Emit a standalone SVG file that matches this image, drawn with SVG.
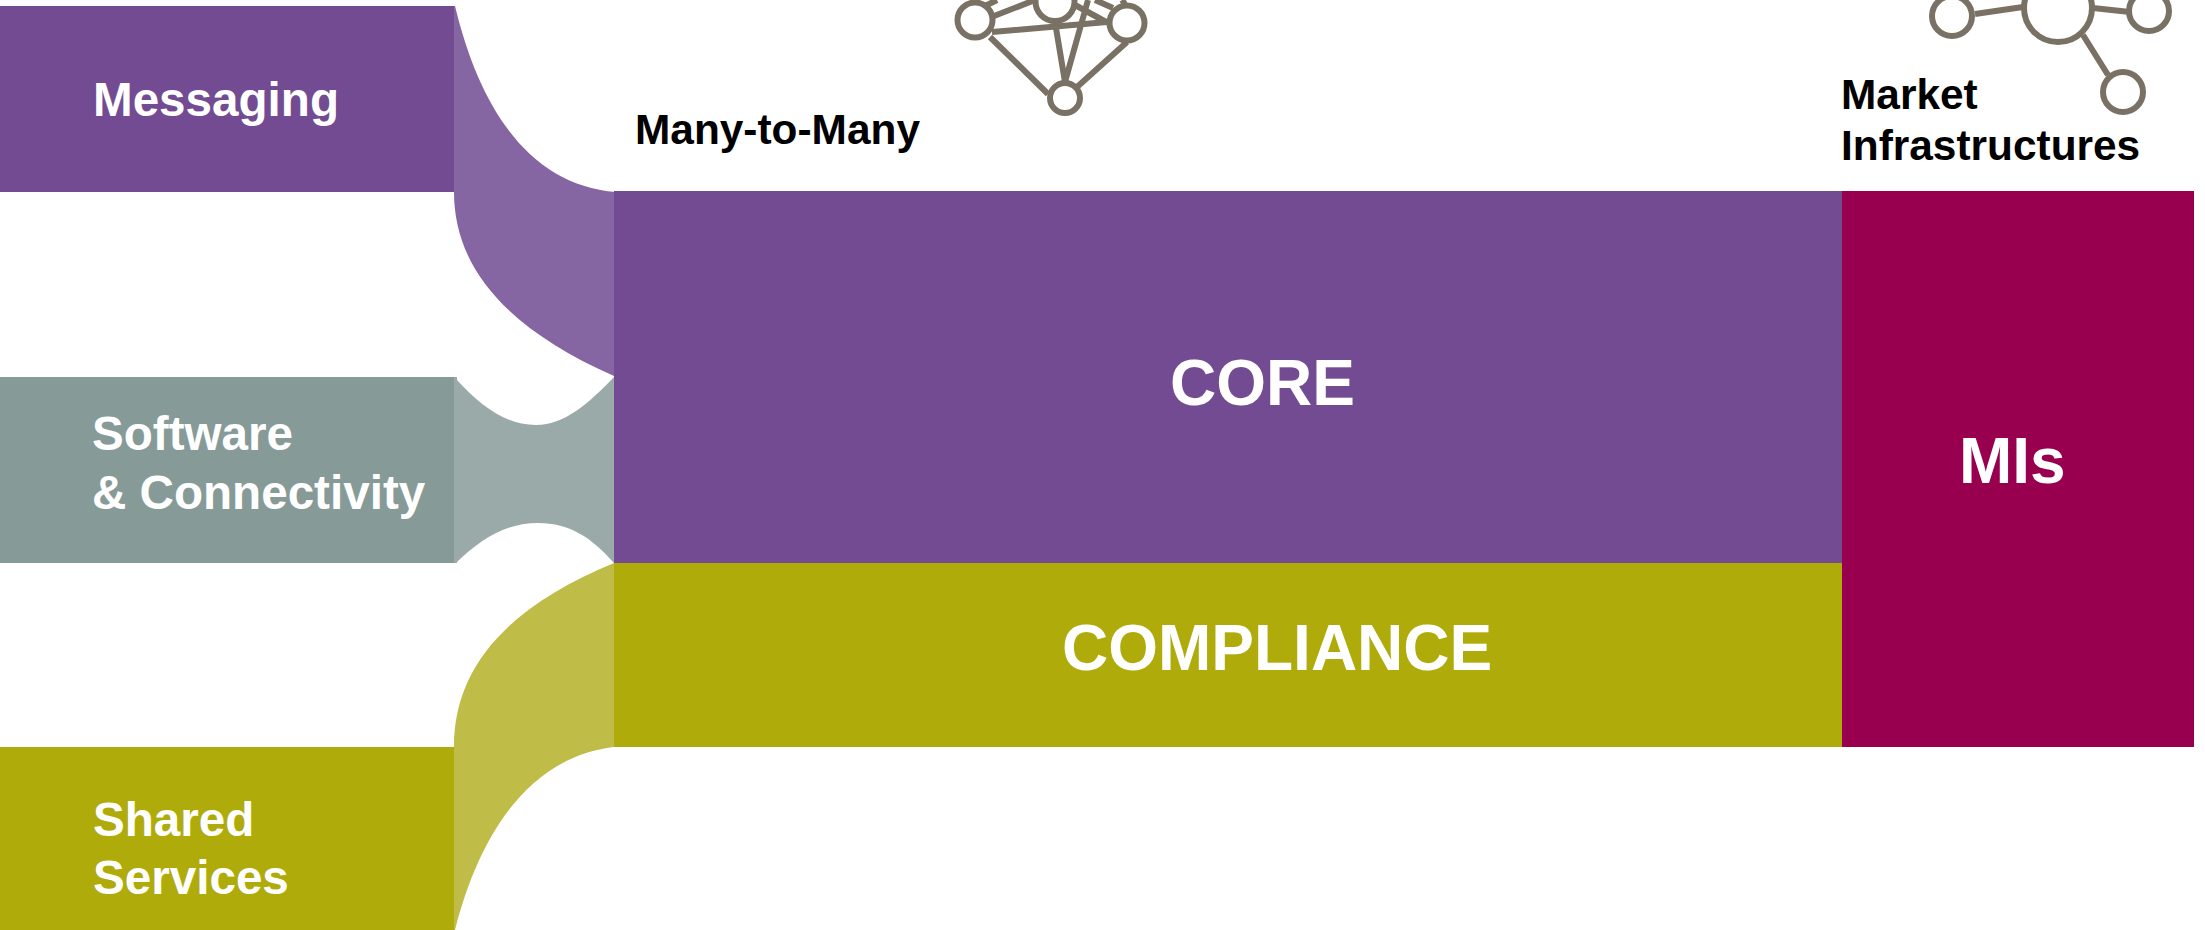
<svg xmlns="http://www.w3.org/2000/svg" width="2205" height="930" viewBox="0 0 2205 930">
<style>
text{font-family:"Liberation Sans",Arial,sans-serif;font-weight:700}
.w{fill:#fff}
.s{font-size:47.6px}
.l{font-size:64px}
.b{font-size:42.4px;fill:#000}
.ln{fill:none;stroke:#7a7165;stroke-width:6}
.c{fill:#fff;stroke:#7a7165;stroke-width:6}
</style>
<rect width="2205" height="930" fill="#fff"/>
<g id="messaging"><rect x="0" y="6" width="454" height="186" fill="#724b92"/><text class="w s" x="93" y="116">Messaging</text></g>
<g id="software"><rect x="0" y="377" width="454" height="186" fill="#869a98"/><text class="w s"><tspan x="92" y="450">Software</tspan><tspan x="92" y="509">&amp; Connectivity</tspan></text></g>
<g id="shared"><rect x="0" y="747" width="454" height="183" fill="#afab0b"/><text class="w s"><tspan x="93" y="836">Shared</tspan><tspan x="93" y="894">Services</tspan></text></g>
<g id="connectors">
<path fill="#8566a3" d="M454 6H455C480 110 530 185 616 192V377L614 376C510 330 454 270 454 192Z"/>
<path fill="#9aaaa8" d="M454 377H457V380C480 405 505 425 536 425C565 425 590 402 614 377H616V563H614C592 538 570 523 538 523C505 523 480 540 457 562V563H454Z"/>
<path fill="#bfbc47" d="M454 747C454 665 510 606 614 563H616V747H614C530 757 480 832 455 930H454Z"/>
</g>
<g id="core"><rect x="614" y="191" width="1228" height="372" fill="#724b92"/><text class="w l" x="1170" y="405">CORE</text></g>
<g id="compliance"><rect x="614" y="563" width="1228" height="184" fill="#afab0b"/><text class="w l" x="1062" y="670">COMPLIANCE</text></g>
<g id="mis"><rect x="1842" y="191" width="352" height="556" fill="#98004f"/><text class="w l" x="1959" y="483">MIs</text></g>
<g id="many-to-many">
<text class="b" x="635" y="144">Many-to-Many</text>
<path class="ln" d="M994 16L1035 0M985 6L997 0M992 32L1107 22M990 37L1048 94M1055 22L1065 82M1088 0L1065 82M1077 87L1127 42M1075 5L1108 23M1095 0L1113 8M1122 0L1125 4"/>
<circle class="c" cx="975" cy="20" r="17.5"/>
<circle class="c" cx="1055" cy="1.5" r="19.5"/>
<circle class="c" cx="1127" cy="23" r="17.5"/>
<circle class="c" cx="1065" cy="98" r="15"/>
</g>
<g id="market-infrastructures">
<text class="b"><tspan x="1841" y="109">Market</tspan><tspan x="1841" y="160">Infrastructures</tspan></text>
<path class="ln" d="M1975 14L2023 7M2093 8L2130 12M2083 35L2108 75"/>
<circle class="c" cx="1952" cy="16" r="20"/>
<circle class="c" cx="2058" cy="8" r="34"/>
<circle class="c" cx="2149" cy="11" r="20"/>
<circle class="c" cx="2123" cy="92" r="20"/>
</g>
</svg>
